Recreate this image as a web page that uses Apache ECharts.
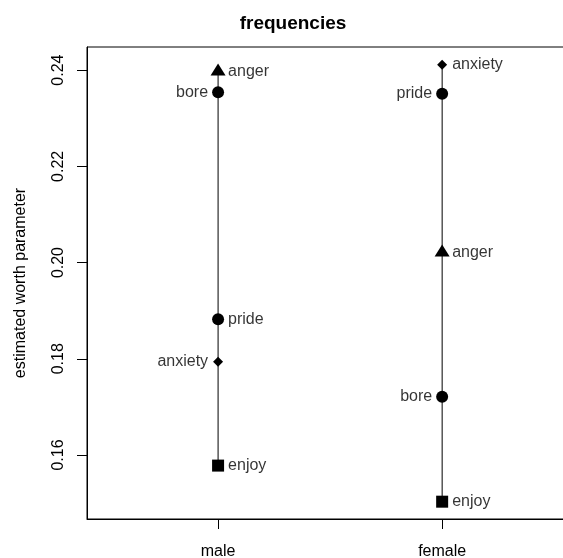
<!DOCTYPE html>
<html>
<head>
<meta charset="utf-8">
<script src="https://cdn.jsdelivr.net/npm/echarts@6/dist/echarts.min.js"></script>
<style>
html,body{margin:0;padding:0;background:#fff;}
#chart{width:563px;height:558px;}
</style>
</head>
<body>
<div id="chart"></div>
<script>
// ---- data ----
const groups = ['male', 'female'];
const items = ['anger', 'bore', 'pride', 'anxiety', 'enjoy'];
const maleWorth = [0.2397, 0.2354, 0.1882, 0.1794, 0.1578];
const femaleWorth = [0.2021, 0.1721, 0.2351, 0.2411, 0.1503];
const yTicks = [0.16, 0.18, 0.20, 0.22, 0.24];
const titleText = 'frequencies';
const yName = 'estimated worth parameter';

// ---- style ----
const FONT = "'Liberation Sans', Arial, Helvetica, sans-serif";
const symbolFor = {
  anger: {symbol: 'triangle', size: [15, 12], offset: [0, -2]},
  bore: {symbol: 'circle', size: 12, offset: [0, 0]},
  pride: {symbol: 'circle', size: 12, offset: [0, 0]},
  anxiety: {symbol: 'diamond', size: 10, offset: [0, 0]},
  enjoy: {symbol: 'rect', size: 12, offset: [0, 0]}
};
const labelSide = [
  ['right', 'left', 'right', 'left', 'right'],
  ['right', 'left', 'left', 'right', 'right']
];

const allWorth = [maleWorth, femaleWorth];
const series = [];

// vertical segments
allWorth.forEach((vals, gi) => {
  const x = gi + 1;
  series.push({
    type: 'line', symbol: 'none', silent: true, z: 1,
    lineStyle: {color: '#000', width: 1},
    data: [[x, Math.min(...vals)], [x, Math.max(...vals)]]
  });
});

// markers
items.forEach((name, ii) => {
  const s = symbolFor[name];
  series.push({
    type: 'scatter', name: name, z: 3,
    symbol: s.symbol, symbolSize: s.size, symbolOffset: s.offset,
    itemStyle: {color: '#000', opacity: 1},
    data: allWorth.map((vals, gi) => [gi + 1, vals[ii]])
  });
});

// labels
const labelData = [];
allWorth.forEach((vals, gi) => {
  items.forEach((name, ii) => {
    labelData.push({
      value: [gi + 1, vals[ii]],
      label: {
        show: true, formatter: name, position: labelSide[gi][ii], distance: 10,
        color: '#000', fontSize: 16, fontFamily: FONT
      }
    });
  });
});
series.push({
  type: 'scatter', symbolSize: 0, z: 4, silent: true,
  itemStyle: {color: 'transparent'},
  data: labelData
});

const chart = echarts.init(document.getElementById('chart'), null, {renderer: 'canvas'});
chart.setOption({
  animation: false,
  backgroundColor: '#fff',
  title: {
    text: titleText, left: 288, top: 9, textAlign: 'center',
    textStyle: {fontSize: 19, fontWeight: 'bold', color: '#000', fontFamily: FONT}
  },
  grid: {
    left: 87, top: 47, width: 512, height: 472,
    show: true, borderColor: '#000', borderWidth: 1,
    containLabel: false, outerBoundsMode: 'none'
  },
  xAxis: {
    type: 'value', min: 0.415, max: 2.7,
    splitLine: {show: false},
    axisLine: {show: true, onZero: false, lineStyle: {color: '#000', width: 1}},
    axisTick: {show: true, length: 10, customValues: [1, 2], lineStyle: {color: '#000'}},
    axisLabel: {
      customValues: [1, 2], margin: 25,
      formatter: v => groups[Math.round(v) - 1] || '',
      color: '#000', fontSize: 16, fontFamily: FONT
    }
  },
  yAxis: {
    type: 'value', min: 0.1467, max: 0.2448,
    name: yName, nameLocation: 'middle', nameGap: 58, nameRotate: 90,
    nameTextStyle: {color: '#000', fontSize: 16, fontFamily: FONT},
    splitLine: {show: false},
    axisLine: {show: true, onZero: false, lineStyle: {color: '#000', width: 1}},
    axisTick: {show: true, length: 10, customValues: yTicks, lineStyle: {color: '#000'}},
    axisLabel: {
      customValues: yTicks, rotate: 90, margin: 20,
      formatter: v => v.toFixed(2),
      color: '#000', fontSize: 16, fontFamily: FONT
    }
  },
  series: series
});
</script>
</body>
</html>
